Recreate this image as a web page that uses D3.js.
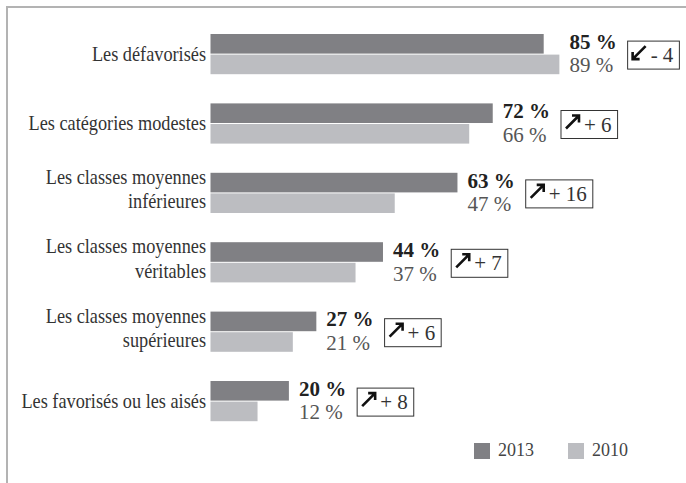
<!DOCTYPE html>
<html>
<head>
<meta charset="utf-8">
<script src="https://cdn.jsdelivr.net/npm/d3@7/dist/d3.min.js"></script>
<style>
  body { margin: 0; background: #fff; }
  text { font-family: "Liberation Serif", "Times New Roman", serif; }
</style>
</head>
<body>
<svg id="chart" width="686" height="483"></svg>
<script>
// data
var categories = [
  ["Les défavorisés"],
  ["Les catégories modestes"],
  ["Les classes moyennes", "inférieures"],
  ["Les classes moyennes", "véritables"],
  ["Les classes moyennes", "supérieures"],
  ["Les favorisés ou les aisés"]
];
var values2013 = [85, 72, 63, 44, 27, 20];
var values2010 = [89, 66, 47, 37, 21, 12];
var years = ["2013", "2010"];

var colorDark = "#808084",
    colorLight = "#bcbdc1";

var svg = d3.select("#chart"),
    width = +svg.attr("width"),
    height = +svg.attr("height");

// frame (top and left rule only)
svg.append("path")
  .attr("d", "M7," + height + "V7H" + width)
  .attr("fill", "none")
  .attr("stroke", "#b3b3b3")
  .attr("stroke-width", 2);

var x = d3.scaleLinear()
  .domain([0, 100])
  .range([210.5, 602.5]);

var y = d3.scalePoint()
  .domain(d3.range(categories.length))
  .range([34, 381]);

var barH = 19.6, gap = 1;

var rows = categories.map(function(c, i) {
  return { label: c, v13: values2013[i], v10: values2010[i], diff: values2013[i] - values2010[i], i: i };
});

var g = svg.selectAll(".row")
  .data(rows)
  .enter()
  .append("g")
  .attr("class", "row")
  .attr("transform", function(d) { return "translate(0," + y(d.i) + ")"; });

// bars
g.append("rect")
  .attr("x", x(0))
  .attr("y", 0)
  .attr("width", function(d) { return x(d.v13) - x(0); })
  .attr("height", barH)
  .attr("fill", colorDark);

g.append("rect")
  .attr("x", x(0))
  .attr("y", barH + gap)
  .attr("width", function(d) { return x(d.v10) - x(0); })
  .attr("height", barH)
  .attr("fill", colorLight);

var mid = barH + gap / 2;

// category labels, condensed serif
g.each(function(d) {
  var sel = d3.select(this);
  var lines = d.label;
  lines.forEach(function(line, k) {
    var cy = lines.length == 1 ? mid : (k == 0 ? mid - 15.5 : mid + 9);
    sel.append("text")
      .attr("transform", "translate(206," + (cy + 6.5) + ") scale(0.87,1)")
      .attr("text-anchor", "end")
      .style("font-size", "21px")
      .style("fill", "#333")
      .text(line);
  });
});

// value labels
g.each(function(d) {
  var sel = d3.select(this);
  var lx = x(Math.max(d.v13, d.v10)) + 10;
  var t1 = sel.append("text")
    .attr("x", lx)
    .attr("y", barH / 2 - 2 + 7)
    .style("font-size", "21px")
    .style("font-weight", "bold")
    .style("fill", "#222")
    .text(d.v13 + " %");
  sel.append("text")
    .attr("x", lx)
    .attr("y", barH + gap + barH / 2 + 1 + 7)
    .style("font-size", "21px")
    .style("fill", "#555")
    .text(d.v10 + " %");

  // change box
  var bx = lx + t1.node().getComputedTextLength() + 11;
  var box = sel.append("g").attr("transform", "translate(" + bx + "," + (mid - 13) + ")");
  var txt = box.append("text")
    .attr("x", 23)
    .attr("y", 21)
    .style("font-size", "21px")
    .style("fill", "#333")
    .text((d.diff < 0 ? "- " : "+ ") + Math.abs(d.diff));
  var bw = 23 + txt.node().getComputedTextLength() + 6;
  box.insert("rect", "text")
    .attr("x", 0)
    .attr("y", 0)
    .attr("width", bw)
    .attr("height", 28)
    .attr("fill", "#fff")
    .attr("stroke", "#333")
    .attr("stroke-width", 1);
  var a = 5, s = 13, hd = 7;
  var arrow = d.diff < 0
    ? "M" + (a + s) + "," + a + "L" + a + "," + (a + s) + "M" + a + "," + (a + s - hd) + "V" + (a + s) + "H" + (a + hd)
    : "M" + a + "," + (a + s) + "L" + (a + s) + "," + a + "M" + (a + s - hd) + "," + a + "H" + (a + s) + "V" + (a + hd);
  box.append("path")
    .attr("d", arrow)
    .attr("fill", "none")
    .attr("stroke", "#111")
    .attr("stroke-width", 2.6);
});

// legend
var legend = svg.selectAll(".legend")
  .data(years)
  .enter()
  .append("g")
  .attr("class", "legend")
  .attr("transform", function(d, i) { return "translate(" + (474 + i * 94) + ",443)"; });

legend.append("rect")
  .attr("width", 16)
  .attr("height", 16)
  .attr("fill", function(d, i) { return i == 0 ? colorDark : colorLight; });

legend.append("text")
  .attr("x", 24)
  .attr("y", 13)
  .style("font-size", "18px")
  .style("fill", "#444")
  .text(function(d) { return d; });
</script>
</body>
</html>
